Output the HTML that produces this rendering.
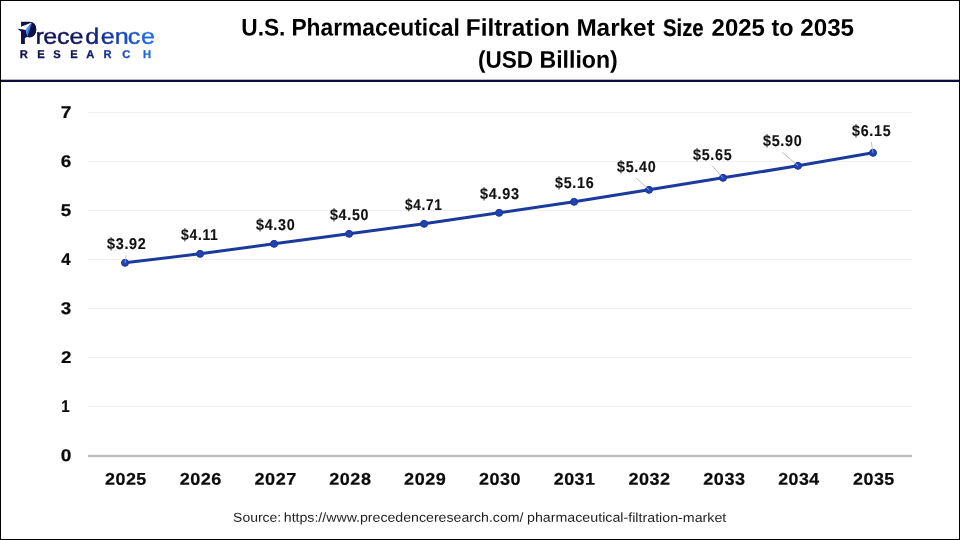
<!DOCTYPE html>
<html lang="en">
<head>
<meta charset="utf-8">
<title>U.S. Pharmaceutical Filtration Market Size 2025 to 2035 (USD Billion)</title>
<style>
html,body{margin:0;padding:0;background:#fff;}
body{width:960px;height:540px;overflow:hidden;position:relative;font-family:"Liberation Sans",sans-serif;}
svg{position:absolute;left:0;top:0;display:block;}
text{font-family:"Liberation Sans",sans-serif;}
.title{font-weight:700;font-size:24.1px;fill:#000;}
.ax{font-weight:700;font-size:17.0px;fill:#0b0b0b;stroke:#0b0b0b;stroke-width:0.22px;}
.dl{font-weight:700;font-size:15.7px;fill:#111;stroke:#111;stroke-width:0.15px;}
.src{font-size:13.0px;fill:#1f1f1f;}
</style>
</head>
<body>
<svg width="960" height="540" viewBox="0 0 960 540">
<defs>
<linearGradient id="lg" x1="20" y1="0" x2="154" y2="0" gradientUnits="userSpaceOnUse">
<stop offset="0" stop-color="#11114d"/>
<stop offset="0.5" stop-color="#131a60"/>
<stop offset="0.66" stop-color="#18349a"/>
<stop offset="0.84" stop-color="#1c58cf"/>
<stop offset="1" stop-color="#1f70ea"/>
</linearGradient>
<linearGradient id="lg2" x1="17.54" y1="0" x2="135.09" y2="0" gradientUnits="userSpaceOnUse">
<stop offset="0" stop-color="#11114d"/>
<stop offset="0.5" stop-color="#131a60"/>
<stop offset="0.66" stop-color="#18349a"/>
<stop offset="0.84" stop-color="#1c58cf"/>
<stop offset="1" stop-color="#1f70ea"/>
</linearGradient>
</defs>
<rect x="0" y="0" width="960" height="540" fill="#ffffff"/>
<!-- header rule -->
<rect x="0" y="79.7" width="960" height="2.3" fill="#0b0b3d"/>
<!-- title -->
<text class="title" y="35.7" transform="rotate(0.03 548 35.7)"><tspan x="241.31" textLength="44.13" lengthAdjust="spacingAndGlyphs">U.S.</tspan> <tspan x="291.38" textLength="168.5" lengthAdjust="spacingAndGlyphs">Pharmaceutical</tspan> <tspan x="465.88" textLength="103.97" lengthAdjust="spacingAndGlyphs">Filtration</tspan> <tspan x="576.38" textLength="78.35" lengthAdjust="spacingAndGlyphs">Market</tspan> <tspan x="662.98" textLength="40.7" lengthAdjust="spacingAndGlyphs" stroke="#000" stroke-width="0.23">Size</tspan> <tspan x="711.62" textLength="53.25" lengthAdjust="spacingAndGlyphs">2025</tspan> <tspan x="771.53" textLength="22.01" lengthAdjust="spacingAndGlyphs">to</tspan> <tspan x="800.32" textLength="53.76" lengthAdjust="spacingAndGlyphs">2035</tspan></text>
<text class="title" y="67.7" transform="rotate(0.03 548 67.7)"><tspan x="477.91" textLength="55.18" lengthAdjust="spacingAndGlyphs">(USD</tspan> <tspan x="539.53" textLength="78.22" lengthAdjust="spacingAndGlyphs">Billion)</tspan></text>
<!-- gridlines -->
<g stroke="#f0f0f0" stroke-width="1">
<line x1="88" y1="112.5" x2="912" y2="112.5"/>
<line x1="88" y1="161.5" x2="912" y2="161.5"/>
<line x1="88" y1="210.5" x2="912" y2="210.5"/>
<line x1="88" y1="259.5" x2="912" y2="259.5"/>
<line x1="88" y1="308.5" x2="912" y2="308.5"/>
<line x1="88" y1="357.5" x2="912" y2="357.5"/>
<line x1="88" y1="406.5" x2="912" y2="406.5"/>
</g>
<rect x="88" y="454.8" width="824" height="2.3" fill="#bdbdbd"/>
<!-- y axis labels -->
<g class="ax">
<text x="60.77" y="117.9" textLength="10.72" lengthAdjust="spacingAndGlyphs" transform="rotate(0.03 60.77 117.9)">7</text>
<text x="60.77" y="166.9" textLength="10.51" lengthAdjust="spacingAndGlyphs" transform="rotate(0.03 60.77 166.9)">6</text>
<text x="60.85" y="215.9" textLength="10.4" lengthAdjust="spacingAndGlyphs" transform="rotate(0.03 60.85 215.9)">5</text>
<text x="61.36" y="264.9" textLength="9.38" lengthAdjust="spacingAndGlyphs" transform="rotate(0.03 61.36 264.9)">4</text>
<text x="60.85" y="313.9" textLength="10.45" lengthAdjust="spacingAndGlyphs" transform="rotate(0.03 60.85 313.9)">3</text>
<text x="60.91" y="362.9" textLength="10.43" lengthAdjust="spacingAndGlyphs" transform="rotate(0.03 60.91 362.9)">2</text>
<text x="61.27" y="411.9" textLength="8.41" lengthAdjust="spacingAndGlyphs" transform="rotate(0.03 61.27 411.9)">1</text>
<text x="60.74" y="460.9" textLength="10.66" lengthAdjust="spacingAndGlyphs" transform="rotate(0.03 60.74 460.9)">0</text>
</g>
<!-- x axis labels -->
<g class="ax" letter-spacing="0.5">
<text x="104.94" y="484.7" textLength="41.9" lengthAdjust="spacingAndGlyphs" transform="rotate(0.03 104.94 484.7)">2025</text>
<text x="179.67" y="484.7" textLength="42.27" lengthAdjust="spacingAndGlyphs" transform="rotate(0.03 179.67 484.7)">2026</text>
<text x="254.47" y="484.7" textLength="42.36" lengthAdjust="spacingAndGlyphs" transform="rotate(0.03 254.47 484.7)">2027</text>
<text x="329.32" y="484.7" textLength="42.11" lengthAdjust="spacingAndGlyphs" transform="rotate(0.03 329.32 484.7)">2028</text>
<text x="404.13" y="484.7" textLength="42.18" lengthAdjust="spacingAndGlyphs" transform="rotate(0.03 404.13 484.7)">2029</text>
<text x="478.92" y="484.7" textLength="42.13" lengthAdjust="spacingAndGlyphs" transform="rotate(0.03 478.92 484.7)">2030</text>
<text x="553.7" y="484.7" textLength="41.84" lengthAdjust="spacingAndGlyphs" transform="rotate(0.03 553.7 484.7)">2031</text>
<text x="628.47" y="484.7" textLength="42.17" lengthAdjust="spacingAndGlyphs" transform="rotate(0.03 628.47 484.7)">2032</text>
<text x="703.3" y="484.7" textLength="42.26" lengthAdjust="spacingAndGlyphs" transform="rotate(0.03 703.3 484.7)">2033</text>
<text x="778.18" y="484.7" textLength="41.51" lengthAdjust="spacingAndGlyphs" transform="rotate(0.03 778.18 484.7)">2034</text>
<text x="852.94" y="484.7" textLength="41.9" lengthAdjust="spacingAndGlyphs" transform="rotate(0.03 852.94 484.7)">2035</text>
</g>
<!-- series -->
<path d="M125.00 262.85 L200.10 253.85 L274.10 243.85 L349.10 233.85 L424.10 223.85 L499.10 212.85 L574.10 201.85 L649.00 189.85 L723.00 177.85 L798.00 165.85 L873.00 152.85" fill="none" stroke="#1b3b9c" stroke-width="3" stroke-linejoin="round" stroke-linecap="round"/>
<g fill="#2043b2" stroke="#1a3796" stroke-width="1">
<circle cx="125.00" cy="262.85" r="3.5"/>
<circle cx="200.10" cy="253.85" r="3.5"/>
<circle cx="274.10" cy="243.85" r="3.5"/>
<circle cx="349.10" cy="233.85" r="3.5"/>
<circle cx="424.10" cy="223.85" r="3.5"/>
<circle cx="499.10" cy="212.85" r="3.5"/>
<circle cx="574.10" cy="201.85" r="3.5"/>
<circle cx="649.00" cy="189.85" r="3.5"/>
<circle cx="723.00" cy="177.85" r="3.5"/>
<circle cx="798.00" cy="165.85" r="3.5"/>
<circle cx="873.00" cy="152.85" r="3.5"/>
</g>
<!-- leader lines -->
<g stroke-width="0.75" fill="none">
<line x1="126.2" y1="255.4" x2="125.57" y2="259.30" stroke="#ababab"/>
<line x1="125.57" y1="259.30" x2="125.00" y2="262.85" stroke="#a9bdf0"/>
<line x1="636.1" y1="178.0" x2="646.35" y2="187.41" stroke="#ababab"/>
<line x1="646.35" y1="187.41" x2="649.00" y2="189.85" stroke="#a9bdf0"/>
<line x1="712.1" y1="165.85" x2="720.58" y2="175.19" stroke="#ababab"/>
<line x1="720.58" y1="175.19" x2="723.00" y2="177.85" stroke="#a9bdf0"/>
<line x1="782.1" y1="152.15" x2="795.27" y2="163.50" stroke="#ababab"/>
<line x1="795.27" y1="163.50" x2="798.00" y2="165.85" stroke="#a9bdf0"/>
<line x1="871.3" y1="142.0" x2="872.44" y2="149.29" stroke="#ababab"/>
<line x1="872.44" y1="149.29" x2="873.00" y2="152.85" stroke="#a9bdf0"/>
</g>
<!-- data labels -->
<g class="dl" letter-spacing="0.8">
<text x="106.97" y="248.8" textLength="39.59" lengthAdjust="spacingAndGlyphs" transform="rotate(0.03 106.97 248.8)">$3.92</text>
<text x="181.03" y="239.8" textLength="37.54" lengthAdjust="spacingAndGlyphs" transform="rotate(0.03 181.03 239.8)">$4.11</text>
<text x="255.97" y="229.8" textLength="39.49" lengthAdjust="spacingAndGlyphs" transform="rotate(0.03 255.97 229.8)">$4.30</text>
<text x="329.98" y="219.8" textLength="39.29" lengthAdjust="spacingAndGlyphs" transform="rotate(0.03 329.98 219.8)">$4.50</text>
<text x="405.05" y="209.8" textLength="37.45" lengthAdjust="spacingAndGlyphs" transform="rotate(0.03 405.05 209.8)">$4.71</text>
<text x="479.97" y="198.8" textLength="39.7" lengthAdjust="spacingAndGlyphs" transform="rotate(0.03 479.97 198.8)">$4.93</text>
<text x="554.97" y="187.8" textLength="39.42" lengthAdjust="spacingAndGlyphs" transform="rotate(0.03 554.97 187.8)">$5.16</text>
<text x="616.97" y="171.7" textLength="39.49" lengthAdjust="spacingAndGlyphs" transform="rotate(0.03 616.97 171.7)">$5.40</text>
<text x="692.98" y="159.7" textLength="39.53" lengthAdjust="spacingAndGlyphs" transform="rotate(0.03 692.98 159.7)">$5.65</text>
<text x="762.97" y="145.85" textLength="39.49" lengthAdjust="spacingAndGlyphs" transform="rotate(0.03 762.97 145.85)">$5.90</text>
<text x="852.09" y="135.8" textLength="39.2" lengthAdjust="spacingAndGlyphs" transform="rotate(0.03 852.09 135.8)">$6.15</text>
</g>
<!-- source -->
<text class="src" y="521.8" transform="rotate(0.03 480 521.8)"><tspan x="233.11" textLength="48.06" lengthAdjust="spacingAndGlyphs">Source:</tspan> <tspan x="283.78" textLength="239.72" lengthAdjust="spacingAndGlyphs">https://www.precedenceresearch.com/</tspan> <tspan x="527.0" textLength="199.33" lengthAdjust="spacingAndGlyphs">pharmaceutical-filtration-market</tspan></text>
<!-- logo -->
<g id="logo" role="img" aria-label="Precedence Research">
<title>Precedence Research</title>
<text x="19.22" y="43.8" font-size="32.3" font-weight="700" fill="#10104c" textLength="17.87" lengthAdjust="spacingAndGlyphs" transform="rotate(0.03 19.22 43.8)">P</text>
<ellipse cx="29.6" cy="29.7" rx="6.7" ry="7.8" fill="#10104c"/>
<polygon points="17.2,28.4 25.7,30.1 27.4,36.8 25.2,38 21.1,38 20.9,31.4" fill="#10104c"/>
<polygon points="17.2,28.2 31.7,22.6 25.7,30.1" fill="#ffffff"/>
<polygon points="31.9,22.9 25.6,30.1 27.5,37" fill="#2a6fdc"/>
<polygon points="31.9,22.9 25.6,30.1 27.5,37 27.2,32" fill="#5d9cf0"/>
<g transform="scale(1.14 1)"><text x="31.15 37.93 50.09 60.99 74.75 88.40 100.66 112.14 123.68" y="43.7" font-size="22.0" fill="url(#lg2)" stroke="url(#lg2)" stroke-width="0.42" transform="rotate(0.03 31.15 43.7)">recedence</text></g>
<text x="19.86 37.26 53.35 70.26 86.3 103.43 122.37 143.08" y="58" font-size="11.2" font-weight="700" fill="url(#lg)" stroke="url(#lg)" stroke-width="0.3" transform="rotate(0.03 20 58)">RESEARCH</text>
</g>
<!-- outer border -->
<rect x="0.5" y="0.5" width="959" height="539" fill="none" stroke="#000" stroke-width="1"/>
</svg>
</body>
</html>
